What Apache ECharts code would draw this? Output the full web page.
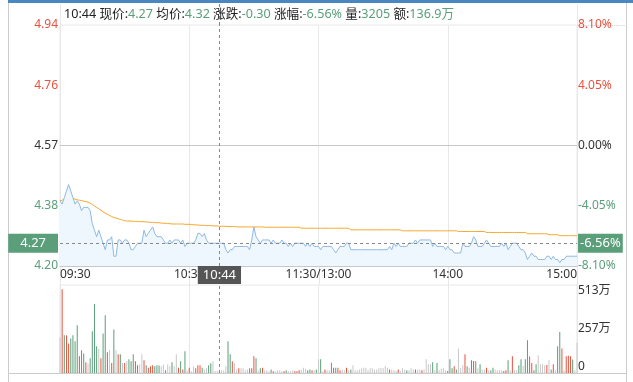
<!DOCTYPE html>
<html><head><meta charset="utf-8">
<script src="https://cdn.jsdelivr.net/npm/echarts@6/dist/echarts.min.js"></script>
<style>html,body{margin:0;padding:0;background:#fff}#c{width:633px;height:382px}</style>
</head><body><div id="c"></div>
<script>
// ---------- data ----------
const prevClose = 4.57;
const priceTicks = [4.20, 4.385, 4.57, 4.755, 4.94];
const priceTickLabels = ['4.20', '4.38', '4.57', '4.76', '4.94'];
const pctTickLabels = ['-8.10%', '-4.05%', '0.00%', '4.05%', '8.10%'];
const volTicks = [0, 256.5, 513];
const volTickLabels = ['0', '257万', '513万'];
const timeTickIndex = [0, 60, 120, 180, 240];
const timeTickLabels = ['09:30', '10:30', '11:30/13:00', '14:00', '15:00'];

const price = [
4.40,4.39,4.41,4.43,4.45,4.43,4.41,4.39,4.40,4.39,
4.37,4.38,4.38,4.38,4.37,4.33,4.31,4.29,4.31,4.29,
4.27,4.25,4.28,4.28,4.29,4.23,4.23,4.28,4.28,4.27,
4.28,4.28,4.27,4.25,4.25,4.26,4.27,4.27,4.27,4.31,
4.29,4.30,4.31,4.32,4.30,4.29,4.29,4.29,4.28,4.27,
4.27,4.28,4.27,4.28,4.28,4.28,4.27,4.28,4.26,4.27,
4.27,4.27,4.27,4.28,4.30,4.30,4.29,4.30,4.28,4.27,
4.27,4.27,4.27,4.27,4.27,4.27,4.27,4.25,4.24,4.25,
4.25,4.26,4.26,4.26,4.26,4.26,4.26,4.26,4.25,4.28,
4.32,4.29,4.28,4.27,4.28,4.28,4.28,4.28,4.27,4.28,
4.27,4.27,4.27,4.28,4.27,4.27,4.26,4.27,4.26,4.27,
4.27,4.27,4.27,4.27,4.26,4.27,4.26,4.27,4.26,4.26,
4.26,4.25,4.26,4.26,4.26,4.26,4.26,4.25,4.24,4.25,
4.26,4.26,4.26,4.27,4.27,4.25,4.25,4.25,4.25,4.25,
4.25,4.25,4.25,4.25,4.25,4.25,4.25,4.25,4.25,4.25,
4.25,4.25,4.25,4.26,4.25,4.27,4.26,4.27,4.26,4.26,
4.26,4.26,4.27,4.27,4.27,4.28,4.27,4.28,4.28,4.28,
4.28,4.28,4.28,4.26,4.27,4.26,4.26,4.26,4.26,4.25,
4.26,4.25,4.25,4.24,4.24,4.24,4.24,4.27,4.26,4.26,
4.26,4.27,4.29,4.28,4.26,4.26,4.26,4.27,4.28,4.27,
4.26,4.26,4.26,4.26,4.26,4.27,4.26,4.27,4.25,4.26,
4.27,4.27,4.27,4.26,4.25,4.25,4.24,4.22,4.23,4.24,
4.23,4.23,4.22,4.22,4.22,4.22,4.23,4.23,4.22,4.23,
4.22,4.22,4.21,4.22,4.22,4.23,4.23,4.23,4.23,4.23,
4.23
];

const avgPrice = [
4.400,4.402,4.405,4.408,4.411,4.410,4.408,4.405,4.403,4.402,
4.401,4.399,4.398,4.396,4.393,4.389,4.384,4.380,4.376,4.371,
4.366,4.362,4.359,4.355,4.352,4.349,4.347,4.345,4.343,4.341,
4.339,4.338,4.338,4.338,4.337,4.337,4.337,4.336,4.336,4.336,
4.335,4.335,4.334,4.334,4.333,4.333,4.333,4.332,4.331,4.331,
4.330,4.330,4.329,4.329,4.329,4.329,4.329,4.329,4.328,4.328,
4.328,4.327,4.327,4.326,4.326,4.325,4.325,4.325,4.324,4.324,
4.324,4.323,4.323,4.323,4.322,4.322,4.322,4.322,4.321,4.321,
4.321,4.321,4.320,4.320,4.320,4.320,4.320,4.320,4.320,4.320,
4.320,4.320,4.320,4.320,4.320,4.319,4.319,4.319,4.319,4.319,
4.319,4.319,4.319,4.319,4.319,4.319,4.319,4.319,4.319,4.319,
4.319,4.319,4.316,4.316,4.316,4.316,4.316,4.316,4.316,4.316,
4.316,4.316,4.316,4.316,4.316,4.316,4.316,4.316,4.316,4.316,
4.316,4.316,4.316,4.316,4.316,4.311,4.311,4.311,4.311,4.311,
4.311,4.311,4.311,4.311,4.311,4.311,4.311,4.311,4.311,4.311,
4.311,4.311,4.311,4.311,4.311,4.311,4.311,4.311,4.311,4.308,
4.308,4.308,4.308,4.308,4.308,4.308,4.308,4.308,4.308,4.308,
4.308,4.308,4.308,4.308,4.308,4.308,4.308,4.308,4.308,4.308,
4.308,4.308,4.308,4.308,4.308,4.306,4.306,4.306,4.306,4.306,
4.306,4.306,4.306,4.306,4.306,4.306,4.306,4.306,4.303,4.303,
4.303,4.303,4.303,4.303,4.303,4.303,4.303,4.303,4.303,4.303,
4.303,4.303,4.303,4.303,4.303,4.303,4.303,4.299,4.299,4.299,
4.299,4.299,4.299,4.299,4.299,4.299,4.299,4.296,4.296,4.296,
4.296,4.296,4.293,4.293,4.293,4.293,4.293,4.293,4.293,4.293,
4.293
];

// volume in 万
const volume = [
207,488,220,220,172,201,220,185,279,98,
133,113,62,55,86,244,402,156,142,86,
230,337,121,133,59,254,133,109,109,59,
59,70,80,68,109,68,45,51,109,74,
45,31,39,45,39,45,43,39,49,16,
51,39,62,39,109,31,68,20,127,16,
31,10,39,27,45,45,31,20,27,45,
57,68,12,12,12,16,16,39,185,109,
68,57,21,27,27,27,16,21,27,27,
98,86,16,27,31,16,16,10,20,10,
10,16,16,10,10,16,10,10,16,10,
10,16,21,31,25,16,20,16,16,20,
80,80,10,21,16,16,60,31,31,31,
16,21,16,31,16,21,45,16,16,21,
27,31,31,16,27,27,21,21,27,31,
27,39,31,20,21,16,12,21,12,27,
21,16,16,27,21,20,20,21,16,20,
80,51,51,62,16,59,16,25,27,16,
12,80,27,39,21,142,31,45,109,39,
31,74,70,68,27,51,21,21,31,16,
16,31,20,16,16,16,12,16,74,16,
98,16,16,45,80,41,80,191,96,59,
16,51,104,51,51,45,47,76,20,51,
16,156,239,143,16,98,100,98,78,16,
176
];
// 1 = up (red), -1 = down (green), 0 = flat (gray)
const volDir = [
0,1,-1,1,1,-1,-1,-1,-1,1,
-1,-1,1,0,-1,-1,-1,-1,0,1,
-1,-1,1,0,1,-1,0,1,-1,0,
1,0,-1,-1,-1,1,1,0,0,1,
-1,1,1,1,-1,-1,-1,0,0,-1,
0,0,-1,0,0,1,-1,1,-1,0,
1,0,0,1,1,1,-1,0,0,-1,
-1,0,0,0,0,0,0,0,-1,-1,
1,0,0,1,0,0,0,0,-1,1,
1,-1,0,-1,1,0,0,0,-1,1,
0,0,0,0,1,-1,0,0,0,1,
1,1,0,0,0,-1,-1,1,0,-1,
0,-1,0,1,0,0,-1,1,-1,1,
1,0,0,1,0,-1,0,0,0,0,
0,0,0,0,0,0,0,0,0,0,
0,0,0,1,0,0,0,1,0,0,
0,-1,0,0,0,1,0,0,1,0,
0,0,0,-1,0,-1,0,0,0,0,
1,-1,-1,1,-1,0,0,0,1,-1,
0,1,1,-1,0,-1,0,0,1,0,
-1,-1,0,0,0,0,1,1,-1,0,
1,0,0,-1,-1,0,-1,-1,1,1,
-1,-1,0,0,0,0,1,0,-1,1,
0,-1,-1,1,0,1,1,1,-1,0,
0
];

const cursorIndex = 74;
const infoLabels = ['现价:', '均价:', '涨跌:', '涨幅:', '量:', '额:'];
const infoValues = ['4.27', '4.32', '-0.30', '-6.56%', '3205', '136.9万'];
const cursorTime = '10:44';
const cursorPct = '-6.56%';

// minute categories 09:30..11:30, 13:01..15:00
const times = [];
const hm = m => String(Math.floor(m / 60)).padStart(2, '0') + ':' + String(m % 60).padStart(2, '0');
for (let m = 9 * 60 + 30; m <= 11 * 60 + 30; m++) times.push(hm(m));
for (let m = 13 * 60 + 1; m <= 15 * 60; m++) times.push(hm(m));

// ---------- styles ----------
const RED = '#e8523f', GREEN = '#5a9e7a', FLAT = '#c8c8c8', TXT = '#333';
const FONT = '"Noto Sans", "Noto Sans CJK SC", sans-serif';
const GRIDC = '#e8e8e8';
const tickPos = v => priceTicks.reduce((b, t, i) => Math.abs(t - v) < Math.abs(priceTicks[b] - v) ? i : b, 0);
const priceColor = v => { const i = tickPos(v); return i === 2 ? TXT : (i > 2 ? RED : GREEN); };
const showTick = i => timeTickIndex.includes(i);

const chart = echarts.init(document.getElementById('c'));
let header = '{l|' + cursorTime + ' }';
infoLabels.forEach((l, i) => { header += '{l|' + l + '}{v|' + infoValues[i] + '}' + (i < infoLabels.length - 1 ? '{l| }' : ''); });

const dashed = { color: '#888', type: [3, 3], width: 1 };
const boxLabel = (text, bg, pos, pad, dist) => ({ show: true, position: pos, formatter: text, backgroundColor: bg,
  color: '#fff', padding: pad, distance: dist, fontSize: 13, fontFamily: FONT });

chart.setOption({
  animation: false,
  textStyle: { fontFamily: FONT },
  grid: [
    { left: 60, right: 56, top: 25, height: 241, show: true, borderColor: GRIDC, borderWidth: 1 },
    { left: 60, right: 56, top: 285, height: 88, show: true, borderColor: GRIDC, borderWidth: 1 }
  ],
  xAxis: [
    { type: 'category', gridIndex: 0, data: times, boundaryGap: false,
      axisLine: { lineStyle: { color: '#c8c8c8' } }, axisTick: { show: false },
      axisLabel: { interval: (i) => showTick(i), formatter: (v, i) => timeTickLabels[timeTickIndex.indexOf(i)] || '',
        color: TXT, fontSize: 12, margin: 3, alignMinLabel: 'left', alignMaxLabel: 'right' },
      splitLine: { show: true, interval: (i) => showTick(i), lineStyle: { color: GRIDC } } },
    { type: 'category', gridIndex: 1, data: times, boundaryGap: false,
      axisLine: { show: false }, axisTick: { show: false }, axisLabel: { show: false },
      splitLine: { show: true, interval: (i) => showTick(i), lineStyle: { color: GRIDC } } }
  ],
  yAxis: [
    { type: 'value', gridIndex: 0, min: priceTicks[0], max: priceTicks[4], position: 'left',
      axisLine: { show: false }, axisTick: { show: false }, splitLine: { show: false },
      axisLabel: { customValues: priceTicks, formatter: v => priceTickLabels[tickPos(v)], color: priceColor, margin: 2, fontSize: 12 } },
    { type: 'value', gridIndex: 0, min: priceTicks[0], max: priceTicks[4], position: 'right',
      axisLine: { show: false }, axisTick: { show: false }, splitLine: { show: false },
      axisLabel: { customValues: priceTicks, formatter: v => pctTickLabels[tickPos(v)], color: priceColor, margin: 1, fontSize: 12 } },
    { type: 'value', gridIndex: 1, min: volTicks[0], max: volTicks[2], position: 'right',
      axisLine: { show: false }, axisTick: { show: false }, splitLine: { show: false },
      axisLabel: { customValues: volTicks, formatter: v => volTickLabels[volTicks.indexOf(v)] ?? '', color: TXT, margin: 1, fontSize: 12,
        verticalAlignMaxLabel: 'top', verticalAlignMinLabel: 'bottom' } }
  ],
  series: [
    { type: 'line', xAxisIndex: 0, yAxisIndex: 0, data: price, symbol: 'none', z: 3,
      lineStyle: { color: '#8fb8e4', width: 1 },
      areaStyle: { color: '#eef7fd', opacity: 1, origin: 'start' },
      markLine: { symbol: ['none', 'none'], silent: true, animation: false,
        data: [
          { yAxis: prevClose, lineStyle: { color: '#c8c8c8', type: 'solid', width: 1 }, label: { show: false } },
          { yAxis: price[cursorIndex], lineStyle: dashed,
            label: boxLabel(price[cursorIndex].toFixed(2), GREEN, 'start', [3, 12, 3, 12], 2) },
          { xAxis: times[cursorIndex], lineStyle: dashed,
            label: boxLabel(cursorTime, '#555', 'start', [3, 5, 2, 5], 0) }
        ] } },
    { type: 'line', xAxisIndex: 0, yAxisIndex: 1, data: avgPrice, symbol: 'none', z: 2,
      lineStyle: { color: '#f4a62a', width: 1 },
      markLine: { symbol: ['none', 'none'], silent: true, animation: false,
        data: [
          { yAxis: price[cursorIndex], lineStyle: dashed,
            label: boxLabel(cursorPct, GREEN, 'end', [3, 2, 3, 2], 1) }
        ] } },
    { type: 'bar', xAxisIndex: 1, yAxisIndex: 2, barWidth: 1, clip: false,
      data: volume.map((v, i) => ({ value: v, itemStyle: { color: volDir[i] > 0 ? RED : (volDir[i] < 0 ? GREEN : FLAT) } })),
      markLine: { symbol: ['none', 'none'], silent: true, animation: false,
        data: [{ xAxis: times[cursorIndex], lineStyle: dashed, label: { show: false } }] } }
  ],
  graphic: [
    { type: 'rect', shape: { x: 8, y: 0, width: 625, height: 3 }, style: { fill: '#4a87c0' }, silent: true },
    { type: 'line', shape: { x1: 8.5, y1: 3, x2: 8.5, y2: 382 }, style: { stroke: '#ccc', lineWidth: 1 }, silent: true },
    { type: 'line', shape: { x1: 626.5, y1: 3, x2: 626.5, y2: 382 }, style: { stroke: '#ccc', lineWidth: 1 }, silent: true },
    { type: 'line', shape: { x1: 8, y1: 373.5, x2: 627, y2: 373.5 }, style: { stroke: '#ccc', lineWidth: 1 }, silent: true },
    { type: 'line', shape: { x1: 577, y1: 25.5, x2: 627, y2: 25.5 }, style: { stroke: GRIDC, lineWidth: 1 }, silent: true },
    { type: 'text', x: 64, y: 14, silent: true, z: 10,
      style: { text: header, verticalAlign: 'middle',
        rich: { l: { fill: '#222', fontSize: 12.6, fontFamily: FONT }, v: { fill: GREEN, fontSize: 12.6, fontFamily: FONT } } } }
  ]
});

// extend grid verticals and the cursor line through the header strip and the gap between panels
const extra = [];
timeTickIndex.forEach(i => {
  const x = Math.round(chart.convertToPixel({ xAxisIndex: 0 }, times[i])) + 0.5;
  extra.push({ type: 'line', silent: true, shape: { x1: x, y1: 266, x2: x, y2: 285 }, style: { stroke: GRIDC, lineWidth: 1 }, z: -1 });
  if (i === 0 || i === 240) extra.push({ type: 'line', silent: true, shape: { x1: x, y1: 4, x2: x, y2: 25 }, style: { stroke: GRIDC, lineWidth: 1 }, z: -1 });
});
const cx = Math.round(chart.convertToPixel({ xAxisIndex: 0 }, times[cursorIndex])) + 0.5;
extra.push({ type: 'line', silent: true, shape: { x1: cx, y1: 4, x2: cx, y2: 25 }, style: { stroke: '#888', lineWidth: 1, lineDash: [3, 3] } });
const opt = chart.getOption();
chart.setOption({ graphic: opt.graphic[0].elements.map(() => ({})).concat(extra) });
</script>
</body></html>
